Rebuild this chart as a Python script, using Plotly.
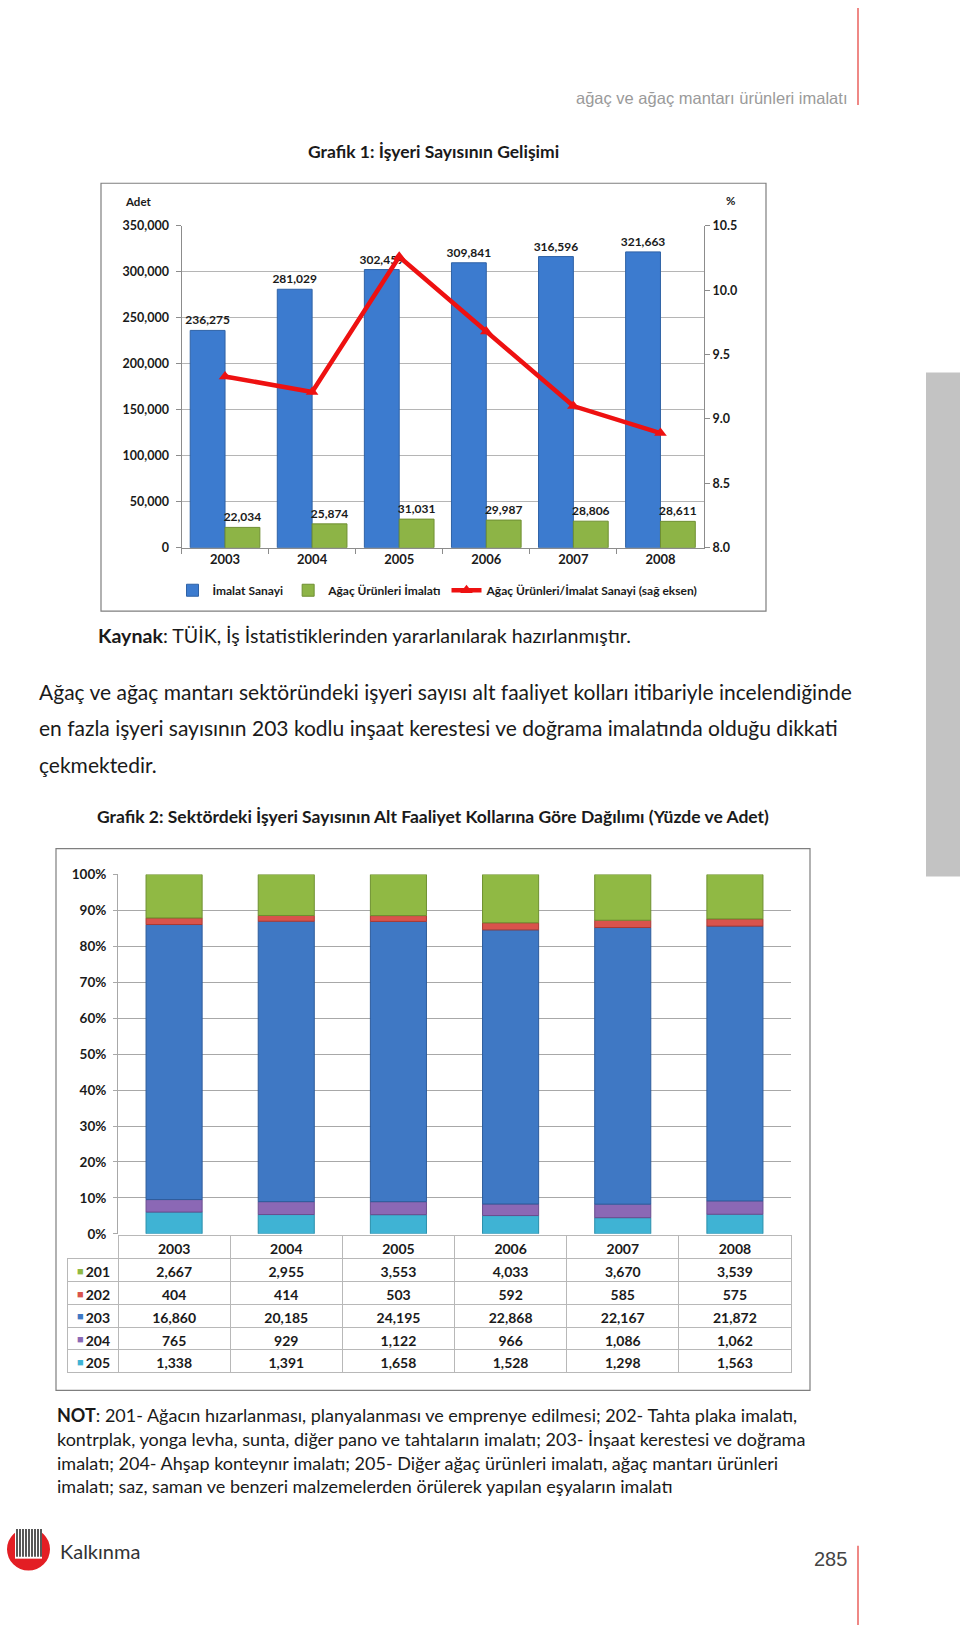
import plotly.graph_objects as go
import numpy as np

W, H = 960, 1633


def fx(x):
    return x / W


def fy(y):
    return 1 - y / H


# ---------------- data ----------------
years = ['2003', '2004', '2005', '2006', '2007', '2008']
imalat = [236275, 281029, 302459, 309841, 316596, 321663]
agac = [22034, 25874, 31031, 29987, 28806, 28611]
oran = [9.33, 9.21, 10.26, 9.68, 9.10, 8.89]

codes = ['201', '202', '203', '204', '205']
s201 = [2667, 2955, 3553, 4033, 3670, 3539]
s202 = [404, 414, 503, 592, 585, 575]
s203 = [16860, 20185, 24195, 22868, 22167, 21872]
s204 = [765, 929, 1122, 966, 1086, 1062]
s205 = [1338, 1391, 1658, 1528, 1298, 1563]
pct_ticks = [0, 10, 20, 30, 40, 50, 60, 70, 80, 90, 100]

FONT = "Lato, Calibri, 'Open Sans', sans-serif"
DARK = '#1a1a1a'

fig = go.Figure()

# ---------------- chart 1 ----------------
fig.add_trace(go.Bar(
    x=years, y=imalat, name='İmalat Sanayi',
    marker=dict(color='#3c7bcf', line=dict(color='#2f62a6', width=1)),
    text=[f"{v:,}" for v in imalat], textposition='outside', constraintext='none',
    textfont=dict(family=FONT, size=12, color=DARK, weight='bold'),
    cliponaxis=False, xaxis='x', yaxis='y', legend='legend'))
fig.add_trace(go.Bar(
    x=years, y=agac, name='Ağaç Ürünleri İmalatı',
    marker=dict(color='#8db446', line=dict(color='#6f8f32', width=1)),
    text=[f"{v:,}" for v in agac], textposition='outside', constraintext='none',
    textfont=dict(family=FONT, size=12, color=DARK, weight='bold'),
    cliponaxis=False, xaxis='x', yaxis='y', legend='legend'))
fig.add_trace(go.Scatter(
    x=years, y=oran, name='Ağaç Ürünleri/İmalat Sanayi (sağ eksen)',
    mode='lines+markers',
    line=dict(color='#ee1111', width=4.5),
    marker=dict(symbol='triangle-up', size=11, color='#ee1111'),
    xaxis='x', yaxis='y2', legend='legend'))

# ---------------- chart 2 (stacked 100%) ----------------
key_colors = {'201': '#90b944', '202': '#d9534c', '203': '#3f78c4', '204': '#8b68b5', '205': '#3fb3d4'}
edge_colors = {'201': '#6e9030', '202': '#a83a35', '203': '#2e5c9b', '204': '#6a4d8f', '205': '#2a8fab'}
stack_series = [('205', s205), ('204', s204), ('203', s203), ('202', s202), ('201', s201)]
totals = np.array(s201) + np.array(s202) + np.array(s203) + np.array(s204) + np.array(s205)
base = np.zeros(len(years))
for code, vals in stack_series:
    pct = np.array(vals) / totals * 100
    fig.add_trace(go.Bar(
        x=years, y=pct, base=base.copy(), name=code,
        marker=dict(color=key_colors[code], line=dict(color=edge_colors[code], width=1)),
        width=0.5, offset=-0.25, offsetgroup='stack',
        showlegend=False, xaxis='x3', yaxis='y3'))
    base = base + pct

# table under chart 2
series_rows = [s201, s202, s203, s204, s205]
cell_cols = [codes] + [[f"{row[j]:,}" for row in series_rows] for j in range(len(years))]
GRID = '#b8b8b8'
ROW_H = 22.8
fig.add_trace(go.Table(
    domain=dict(x=[fx(67), fx(791)], y=[fy(1400), fy(1240)]),
    columnwidth=[51] + [112] * 6,
    header=dict(values=[''] + years, height=ROW_H,
                fill=dict(color=['rgba(0,0,0,0)'] + ['white'] * 6),
                line=dict(color=['rgba(0,0,0,0)'] + [GRID] * 6, width=1),
                font=dict(family=FONT, size=14, color=DARK, weight='bold'),
                align='center'),
    cells=dict(values=cell_cols, height=ROW_H,
               fill=dict(color='white'),
               line=dict(color=GRID, width=1),
               font=dict(family=FONT, size=14, color=DARK, weight='bold'),
               align=['right'] + ['center'] * 6)))

# ---------------- layout ----------------
tickfont = dict(family=FONT, size=12.5, color=DARK, weight='bold')
fig.update_layout(
    width=W, height=H, margin=dict(l=0, r=0, t=0, b=0),
    paper_bgcolor='white', plot_bgcolor='rgba(0,0,0,0)',
    barmode='group', bargap=0.2, bargroupgap=0,
    font=dict(family=FONT, color=DARK),
    xaxis=dict(domain=[fx(181.5), fx(704)], anchor='y', type='category',
               showline=True, linecolor='#8c8c8c', linewidth=1,
               ticks='outside', tickson='boundaries', ticklen=5, tickcolor='#8c8c8c',
               tickfont=dict(family=FONT, size=13, color=DARK, weight='bold'), showgrid=False),
    yaxis=dict(domain=[fy(545), fy(220)], anchor='x', range=[0, 350000], dtick=50000,
               tickformat=',', showgrid=True, gridcolor='#b5b5b5', gridwidth=1,
               showline=True, linecolor='#8c8c8c', ticks='outside', ticklen=5,
               tickcolor='#8c8c8c', tickfont=tickfont, zeroline=False,
               ticklabelstandoff=4),
    yaxis2=dict(overlaying='y', side='right', anchor='x', range=[8.0, 10.5], dtick=0.5,
                tickformat='.1f', showgrid=False, showline=True, linecolor='#8c8c8c',
                ticks='outside', ticklen=5, tickcolor='#8c8c8c', tickfont=tickfont,
                zeroline=False),
    xaxis3=dict(domain=[fx(118), fx(791)], anchor='y3', type='category',
                showticklabels=False, ticks='', showgrid=False, showline=False),
    yaxis3=dict(domain=[fy(1238), fy(875)], anchor='x3', range=[0, 100],
                tickmode='array', tickvals=pct_ticks,
                ticktext=[f"{t}%" for t in pct_ticks],
                showgrid=True, gridcolor='#a8a8a8', gridwidth=1, zeroline=False,
                showline=True, linecolor='#a8a8a8', ticks='outside', ticklen=4,
                tickcolor='#a8a8a8',
                tickfont=dict(family=FONT, size=13.5, color=DARK, weight='bold'),
                ticklabelstandoff=4),
    legend=dict(orientation='h', x=fx(438), y=fy(588), xanchor='center', yanchor='middle',
                font=dict(family=FONT, size=12, color=DARK, weight='bold'),
                bgcolor='rgba(0,0,0,0)', itemwidth=30, tracegroupgap=0,
                traceorder='normal'),
)

shapes = [
    # chart frames
    dict(type='rect', xref='paper', yref='paper', x0=fx(101), x1=fx(766), y0=fy(609), y1=fy(177),
         line=dict(color='#7f7f7f', width=1.2), fillcolor='rgba(0,0,0,0)', layer='below'),
    dict(type='rect', xref='paper', yref='paper', x0=fx(56), x1=fx(810), y0=fy(1396), y1=fy(849),
         line=dict(color='#7f7f7f', width=1.2), fillcolor='rgba(0,0,0,0)', layer='below'),
    # header red rule
    dict(type='line', xref='paper', yref='paper', x0=fx(858), x1=fx(858), y0=fy(0), y1=fy(98),
         line=dict(color='#e53935', width=1.2)),
    # footer red rule
    dict(type='line', xref='paper', yref='paper', x0=fx(858), x1=fx(858), y0=fy(1553), y1=fy(1633),
         line=dict(color='#e53935', width=1.2)),
    # grey side tab
    dict(type='rect', xref='paper', yref='paper', x0=fx(926), x1=fx(960), y0=fy(877), y1=fy(368),
         line=dict(width=0), fillcolor='#c3c3c3'),
    # logo circle
    dict(type='circle', xref='paper', yref='paper', x0=fx(7), x1=fx(50), y0=fy(1578), y1=fy(1535),
         line=dict(width=0), fillcolor='#e31e24'),
    dict(type='rect', xref='paper', yref='paper', x0=fx(15), x1=fx(42), y0=fy(1566), y1=fy(1534),
         line=dict(width=0), fillcolor='white'),
]
for i in range(9):
    xx = 17 + i * 3
    shapes.append(dict(type='line', xref='paper', yref='paper', x0=fx(xx), x1=fx(xx),
                       y0=fy(1564), y1=fy(1536), line=dict(color='#111111', width=1.4)))
fig.update_layout(shapes=shapes)

ann = []


def text(x, y, s, size, color=DARK, xanchor='left', family=FONT, weight='normal'):
    ann.append(dict(xref='paper', yref='paper', x=fx(x), y=fy(y), text=s, showarrow=False,
                    xanchor=xanchor, yanchor='middle', align='left',
                    font=dict(family=family, size=size, color=color, weight=weight)))


# legend keys for the table rows
for i, code in enumerate(codes):
    text(80, 1241 + ROW_H * (i + 1.5), '■', 11, color=key_colors[code], xanchor='center')

text(849, 91, 'ağaç ve ağaç mantarı ürünleri imalatı', 16.5, color='#9a9a9a', xanchor='right',
     family="'Liberation Sans Narrow', 'Liberation Sans', Arial, sans-serif")
text(433, 145, 'Grafik 1: İşyeri Sayısının Gelişimi', 17.5, xanchor='center', weight='bold')
text(138, 195, 'Adet', 11.5, xanchor='center', weight='bold')
text(730, 194, '%', 11.5, xanchor='center', weight='bold')
text(96, 634, '<b>Kaynak</b>: TÜİK, İş İstatistiklerinden yararlanılarak hazırlanmıştır.', 19.6)
para = ['Ağaç ve ağaç mantarı sektöründeki işyeri sayısı alt faaliyet kolları itibariyle incelendiğinde',
        'en fazla işyeri sayısının 203 kodlu inşaat kerestesi ve doğrama imalatında olduğu dikkati',
        'çekmektedir.']
for i, line in enumerate(para):
    text(37, 690 + i * 37, line, 21)
text(433, 816, 'Grafik 2: Sektördeki İşyeri Sayısının Alt Faaliyet Kollarına Göre Dağılımı (Yüzde ve Adet)',
     17.5, xanchor='center', weight='bold')
notes = ['<b>NOT</b>: 201- Ağacın hızarlanması, planyalanması ve emprenye edilmesi; 202- Tahta plaka imalatı,',
         'kontrplak, yonga levha, sunta, diğer pano ve tahtaların imalatı; 203- İnşaat kerestesi ve doğrama',
         'imalatı; 204- Ahşap konteynır imalatı; 205- Diğer ağaç ürünleri imalatı, ağaç mantarı ürünleri',
         'imalatı; saz, saman ve benzeri malzemelerden örülerek yapılan eşyaların imalatı']
for i, line in enumerate(notes):
    text(55, 1421 + i * 24, line, 18)
text(58, 1558, 'Kalkınma', 20, color='#333333')
text(849, 1566, '285', 20, color='#444444', xanchor='right',
     family="'Liberation Sans Narrow', 'Liberation Sans', Arial, sans-serif")
fig.update_layout(annotations=ann)

fig.write_html('out.html')
